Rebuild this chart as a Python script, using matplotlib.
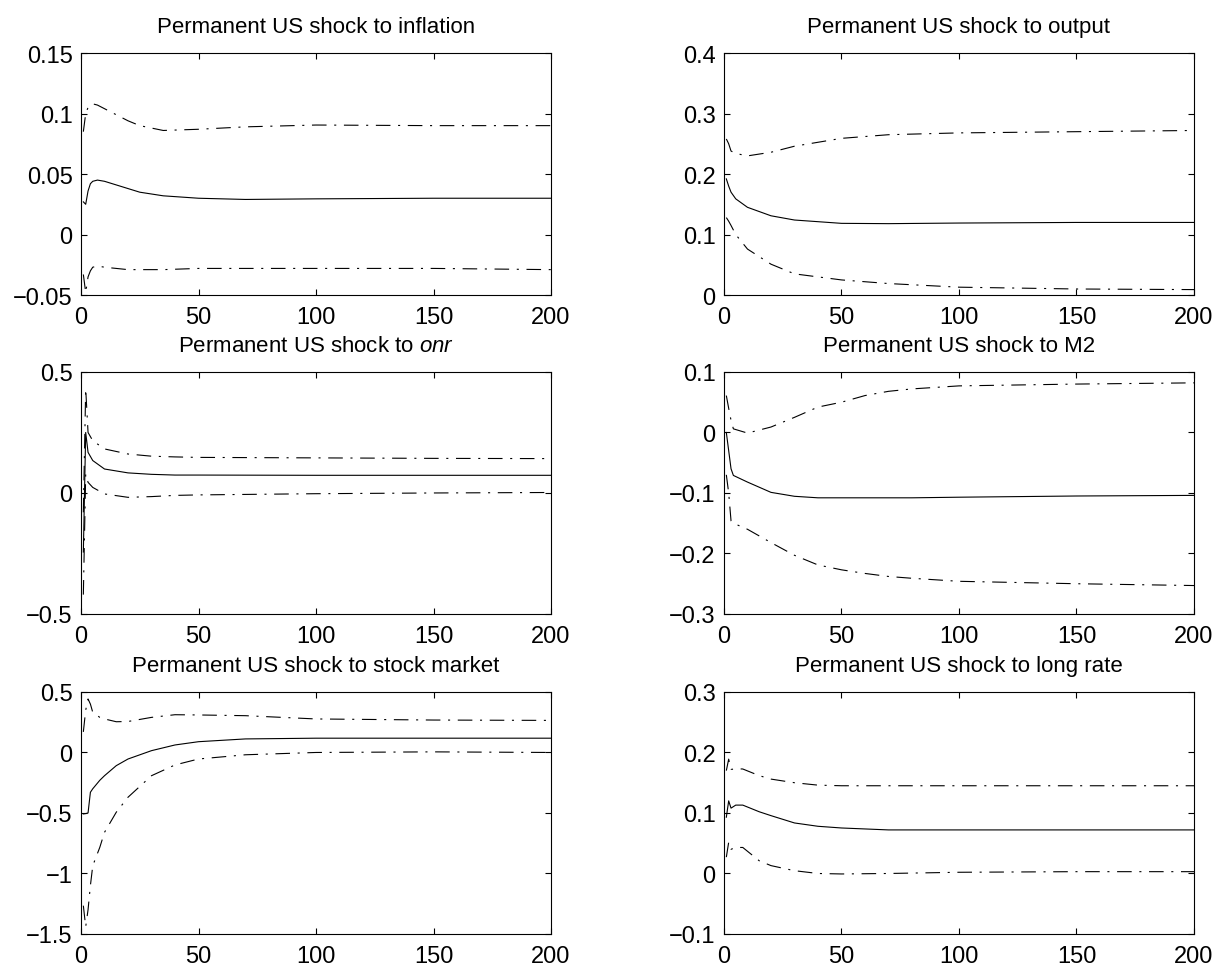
#//==\\--//==\\--//==\\--//==\\--//==\\--//==\\--//==\\--//==\\--//==\\--//==\\#

import numpy as np
import matplotlib
matplotlib.use("Agg")
import matplotlib.pyplot as plt
from matplotlib.ticker import FuncFormatter

#//==\\--//==\\--//==\\--//==\\--//==\\--//==\\--//==\\--//==\\--//==\\--//==\\#

t_infl  = [1, 2, 3, 4, 5, 7, 10, 15, 20, 25, 35, 50, 70, 100, 150, 200]
infl_md = [0.027, 0.025, 0.036, 0.042, 0.044, 0.045, 0.044, 0.041, 0.038, 0.035, 0.032, 0.030, 0.029, 0.0295, 0.030, 0.030]
infl_up = [0.085, 0.100, 0.105, 0.107, 0.108, 0.107, 0.104, 0.099, 0.094, 0.090, 0.086, 0.087, 0.089, 0.0905, 0.090, 0.090]
infl_lo = [-0.033, -0.048, -0.035, -0.030, -0.027, -0.026, -0.027, -0.028, -0.029, -0.029, -0.029, -0.028, -0.028, -0.028, -0.028, -0.029]

t_out  = [1, 2, 3, 5, 10, 20, 30, 50, 70, 100, 150, 200]
out_md = [0.192, 0.180, 0.170, 0.159, 0.145, 0.131, 0.124, 0.1185, 0.118, 0.119, 0.120, 0.120]
out_up = [0.258, 0.250, 0.238, 0.234, 0.230, 0.236, 0.246, 0.259, 0.265, 0.268, 0.270, 0.272]
out_lo = [0.128, 0.122, 0.115, 0.100, 0.076, 0.051, 0.035, 0.025, 0.019, 0.013, 0.010, 0.009]

t_onr  = [1, 2, 3, 5, 10, 20, 30, 40, 50, 100, 150, 200]
onr_md = [-0.244, 0.250, 0.168, 0.134, 0.099, 0.083, 0.077, 0.074, 0.074, 0.073, 0.073, 0.073]
onr_up = [-0.08, 0.430, 0.250, 0.216, 0.182, 0.161, 0.152, 0.149, 0.147, 0.145, 0.143, 0.142]
onr_lo = [-0.42, 0.078, 0.044, 0.023, -0.004, -0.018, -0.015, -0.010, -0.008, -0.003, 0.000, 0.002]

t_m2  = [1, 2, 3, 4, 10, 20, 30, 40, 50, 60, 70, 80, 100, 150, 200]
m2_md = [0.000, -0.030, -0.060, -0.071, -0.082, -0.099, -0.1055, -0.108, -0.108, -0.108, -0.108, -0.108, -0.107, -0.105, -0.104]
m2_up = [0.061, 0.040, 0.020, 0.006, -0.001, 0.009, 0.025, 0.042, 0.050, 0.061, 0.068, 0.072, 0.077, 0.080, 0.082]
m2_lo = [-0.070, -0.100, -0.146, -0.150, -0.160, -0.182, -0.203, -0.219, -0.227, -0.233, -0.238, -0.241, -0.246, -0.250, -0.253]

t_stk  = [1, 2, 3, 4, 5, 8, 10, 15, 20, 30, 40, 50, 70, 100, 150, 200]
stk_md = [-0.508, -0.505, -0.500, -0.329, -0.300, -0.230, -0.192, -0.109, -0.054, 0.015, 0.062, 0.089, 0.112, 0.118, 0.118, 0.118]
stk_up = [0.170, 0.350, 0.442, 0.400, 0.332, 0.290, 0.277, 0.254, 0.256, 0.290, 0.312, 0.310, 0.304, 0.277, 0.268, 0.265]
stk_lo = [-1.266, -1.440, -1.300, -1.100, -0.936, -0.784, -0.660, -0.494, -0.370, -0.192, -0.103, -0.054, -0.019, 0.000, 0.005, 0.000]

t_lr  = [1, 2, 3, 5, 8, 15, 20, 30, 40, 50, 70, 100, 150, 200]
lr_md = [0.093, 0.120, 0.108, 0.113, 0.113, 0.102, 0.0956, 0.0835, 0.078, 0.0752, 0.072, 0.072, 0.072, 0.072]
lr_up = [0.170, 0.189, 0.172, 0.173, 0.1727, 0.1617, 0.156, 0.150, 0.146, 0.145, 0.145, 0.145, 0.145, 0.145]
lr_lo = [0.027, 0.0516, 0.040, 0.043, 0.043, 0.021, 0.013, 0.0046, 0.000, -0.0008, 0.000, 0.002, 0.003, 0.003]

titles = ["Permanent US shock to inflation",
          "Permanent US shock to output",
          r"Permanent US shock to $\it{onr}$",
          "Permanent US shock to M2",
          "Permanent US shock to stock market",
          "Permanent US shock to long rate"]

yticks = [[-0.05, 0, 0.05, 0.1, 0.15],
          [0, 0.1, 0.2, 0.3, 0.4],
          [-0.5, 0, 0.5],
          [-0.3, -0.2, -0.1, 0, 0.1],
          [-1.5, -1, -0.5, 0, 0.5],
          [-0.1, 0, 0.1, 0.2, 0.3]]

xticks = [0, 50, 100, 150, 200]

#//==\\--//==\\--//==\\--//==\\--//==\\--//==\\--//==\\--//==\\--//==\\--//==\\#

plt.rcParams['font.family'] = ['Liberation Sans', 'DejaVu Sans']
plt.rcParams['mathtext.fontset'] = 'custom'
plt.rcParams['mathtext.rm'] = 'Liberation Sans'
plt.rcParams['mathtext.it'] = 'Liberation Sans:italic'
plt.rcParams['lines.scale_dashes'] = False

DASHDOT = (10.5, 5.5, 1.5, 5.5)


def fmt_tick(v, pos):
    s = "%g" % v
    return s.replace("-", "\u2212")


def fn_panel(ax, t, md, up, lo, title, yt):
    ax.plot(t, up, color="k", lw=0.8, dashes=DASHDOT)
    ax.plot(t, md, color="k", lw=0.8)
    ax.plot(t, lo, color="k", lw=0.8, dashes=DASHDOT)

    ax.set_xlim(0, 200)
    ax.set_ylim(yt[0], yt[-1])
    ax.set_xticks(xticks)
    ax.set_yticks(yt)
    ax.xaxis.set_major_formatter(FuncFormatter(fmt_tick))
    ax.yaxis.set_major_formatter(FuncFormatter(fmt_tick))
    ax.tick_params(direction="in", length=4.5, width=0.8, labelsize=17,
                   top=True, right=True)
    ax.tick_params(axis="x", pad=8)
    ax.tick_params(axis="y", pad=6)
    for sp in ax.spines.values():
        sp.set_linewidth(0.8)
    ax.set_title(title, fontsize=16, pad=15)


def do_main():
    fig = plt.figure(figsize=(12.18, 9.70), dpi=100)

    # axes positions (left, bottom, width, height) as figure fractions
    lefts   = [0.0665, 0.5944]
    bottoms = [0.6948, 0.3660, 0.0361]
    w, h    = 0.3859, 0.2495

    data = [(t_infl, infl_md, infl_up, infl_lo),
            (t_out,  out_md,  out_up,  out_lo),
            (t_onr,  onr_md,  onr_up,  onr_lo),
            (t_m2,   m2_md,   m2_up,   m2_lo),
            (t_stk,  stk_md,  stk_up,  stk_lo),
            (t_lr,   lr_md,   lr_up,   lr_lo)]

    for k, (t, md, up, lo) in enumerate(data):
        row, col = divmod(k, 2)
        ax = fig.add_axes([lefts[col], bottoms[row], w, h])
        fn_panel(ax, t, md, up, lo, titles[k], yticks[k])

    fig.savefig("out.png", dpi=100)

#//==\\--//==\\--//==\\--//==\\--//==\\--//==\\--//==\\--//==\\--//==\\--//==\\#

if __name__ == "__main__":
    do_main()
